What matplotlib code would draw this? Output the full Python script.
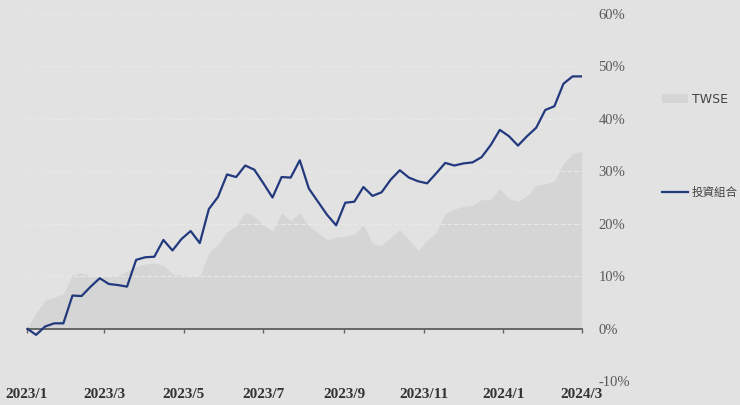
import numpy as np
import pandas as pd
import matplotlib
matplotlib.use("Agg")
import matplotlib.pyplot as plt
import matplotlib.dates as mdates
from matplotlib.patches import Patch
from matplotlib.lines import Line2D

# weekly cumulative returns (%), 2023/1 -> 2024/3
dates = pd.date_range("2023-01-01", "2024-03-01", periods=62)
portfolio = [0.0, -1.2, 0.4, 1.0, 1.0, 6.3, 6.2, 8.0, 9.6, 8.5,
             8.3, 8.0, 13.1, 13.6, 13.7, 16.9, 14.9, 17.1, 18.6, 16.3,
             22.8, 25.1, 29.4, 28.9, 31.1, 30.3, 27.7, 25.0, 28.9, 28.8,
             32.1, 26.7, 24.2, 21.7, 19.7, 24.0, 24.2, 27.0, 25.3, 26.0,
             28.4, 30.2, 28.8, 28.1, 27.7, 29.6, 31.6, 31.1, 31.5, 31.7,
             32.7, 35.0, 37.9, 36.7, 34.9, 36.7, 38.3, 41.7, 42.4, 46.7,
             48.1, 48.1]
twse = [0.0, 3.0, 5.4, 6.0, 6.6, 10.3, 10.6, 10.1, 9.8, 10.0,
        10.1, 11.0, 11.8, 12.3, 12.5, 12.0, 10.4, 10.2, 10.0, 10.0,
        14.5, 16.0, 18.5, 19.5, 22.2, 21.4, 19.7, 18.6, 22.0, 20.6,
        22.1, 19.6, 18.2, 16.9, 17.4, 17.6, 18.0, 19.8, 16.2, 15.8,
        17.4, 18.8, 17.0, 14.9, 16.8, 18.4, 21.9, 22.8, 23.3, 23.5,
        24.6, 24.6, 26.7, 24.8, 24.3, 25.3, 27.3, 27.6, 28.1, 31.5,
        33.4, 33.8]
y_ticks = [-10, 0, 10, 20, 30, 40, 50, 60]
month_ticks = [1, 3, 5, 7, 9, 11]

bg = "#e2e2e2"
navy = "#22397d"
area_col = "#d5d5d5"

plt.rcParams["font.family"] = ["DejaVu Sans", "Noto Sans CJK TC"]

fig = plt.figure(figsize=(7.4, 4.05), dpi=100, facecolor=bg)
ax = fig.add_axes([0.0365, 0.0593, 0.7495, 0.9061])
ax.set_facecolor(bg)

ax.fill_between(dates, 0, twse, color=area_col, linewidth=0, zorder=1)
ax.plot(dates, portfolio, color=navy, linewidth=1.6, zorder=3)

ax.set_xlim(pd.Timestamp("2023-01-01"), pd.Timestamp("2024-03-01"))
ax.set_ylim(-10, 60)

for s in ax.spines.values():
    s.set_visible(False)

# y axis on right
ax.yaxis.tick_right()
ax.set_yticks(y_ticks)
ax.set_yticklabels([f"{v}%" for v in y_ticks], family="Liberation Serif",
                   fontsize=10.5, color="#5a5a5a")
ax.tick_params(axis="y", length=0, pad=12)
ax.grid(axis="y", color="#e8e8e8", linestyle=(0, (4, 2)), linewidth=0.8, zorder=0)

# x labels at bottom
ax.xaxis.set_major_locator(mdates.MonthLocator(bymonth=month_ticks))
ax.xaxis.set_major_formatter(plt.FuncFormatter(
    lambda v, _: f"{mdates.num2date(v).year}/{mdates.num2date(v).month}"))
ax.tick_params(axis="x", length=0, pad=5, labelsize=11, labelcolor="#333333")
for lb in ax.get_xticklabels():
    lb.set_family("Liberation Serif")
    lb.set_fontweight("bold")

# zero line with ticks
sec = ax.secondary_xaxis(10 / 70)
sec.xaxis.set_major_locator(mdates.MonthLocator(bymonth=month_ticks))
sec.set_xticklabels([])
sec.tick_params(axis="x", direction="out", length=3, color="#666666", width=1, labelbottom=False)
sec.spines["bottom"].set_color("#666666")
sec.spines["bottom"].set_linewidth(1.4)
sec.set_zorder(2)

handles = [Patch(facecolor=area_col, edgecolor="none"),
           Line2D([0], [0], color=navy, linewidth=1.6)]
leg = fig.legend(handles, ["TWSE", "投資組合"], loc="upper left",
                 bbox_to_anchor=(0.894, 0.770), frameon=False, fontsize=9,
                 borderpad=0, borderaxespad=0,
                 labelspacing=6.4, handlelength=2.1, handletextpad=0.3,
                 labelcolor="#444444")
leg.get_texts()[1].set_family(["Noto Sans CJK TC", "DejaVu Sans"])
leg.get_texts()[1].set_fontsize(8.3)

fig.savefig("out.png", dpi=100, facecolor=bg)
